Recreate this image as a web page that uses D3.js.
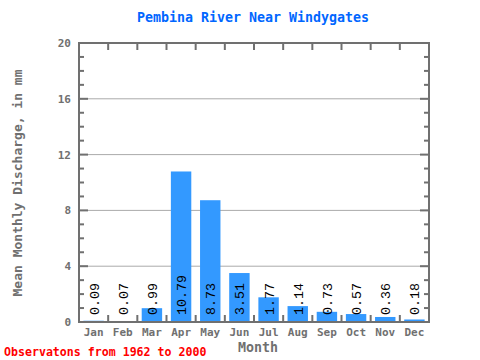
<!DOCTYPE html>
<html><head><meta charset="utf-8">
<script src="https://cdn.jsdelivr.net/npm/d3@7"></script>
<style>body{margin:0;background:#fff}</style>
</head><body>
<svg id="c" width="480" height="360"></svg>
<script>
const months = ["Jan","Feb","Mar","Apr","May","Jun","Jul","Aug","Sep","Oct","Nov","Dec"];
const values = [0.09,0.07,0.99,10.79,8.73,3.51,1.77,1.14,0.73,0.57,0.36,0.18];
const yTicks = [0,4,8,12,16,20];
const title = "Pembina River Near Windygates";
const yTitle = "Mean Monthly Discharge, in mm";
const xTitle = "Month";
const footer = "Observatons from 1962 to 2000";

const svg = d3.select("#c");
const L = 79, R = 429, T = 43, B = 322;
const axisCol = "#707070";
const mono = "'DejaVu Sans Mono', monospace";

const x = d3.scaleBand().domain(months).range([L, R]).paddingInner(0.3).paddingOuter(0.15);
const xb = d3.scaleLinear().domain([0, 12]).range([L, R]);
const y = d3.scaleLinear().domain([0, 20]).range([B, T]);

// gridlines
svg.append("g").selectAll("line").data(yTicks.filter(d => d > 0 && d < 20)).join("line")
  .attr("x1", L).attr("x2", R).attr("y1", d => y(d)).attr("y2", d => y(d))
  .attr("stroke", "#aaaaaa").attr("stroke-width", 1);

// bars
svg.append("g").selectAll("rect").data(values).join("rect")
  .attr("x", (d, i) => x(months[i])).attr("width", x.bandwidth())
  .attr("y", d => y(d)).attr("height", d => B - y(d))
  .attr("fill", "#3399ff");

// value labels
svg.append("g").selectAll("text").data(values).join("text")
  .attr("transform", (d, i) => `translate(${x(months[i]) + x.bandwidth() / 2 + 5},${B - 7}) rotate(-90)`)
  .attr("font-family", "'Liberation Mono', 'Courier New', monospace").attr("font-size", 13.3)
  .attr("fill", "#000").text(d => d.toFixed(2));

// minor ticks left & right
const minor = d3.range(1, 20).filter(v => v % 4 !== 0);
const tg = svg.append("g").attr("stroke", axisCol).attr("stroke-width", 2);
tg.selectAll(".ml").data(minor).join("line")
  .attr("x1", L).attr("x2", L + 5).attr("y1", d => y(d)).attr("y2", d => y(d));
tg.selectAll(".mr").data(minor).join("line")
  .attr("x1", R - 5).attr("x2", R).attr("y1", d => y(d)).attr("y2", d => y(d));
tg.selectAll(".Ml").data(yTicks.filter(d => d > 0 && d < 20)).join("line")
  .attr("x1", L).attr("x2", L + 9).attr("y1", d => y(d)).attr("y2", d => y(d));
tg.selectAll(".Mr").data(yTicks.filter(d => d > 0 && d < 20)).join("line")
  .attr("x1", R - 9).attr("x2", R).attr("y1", d => y(d)).attr("y2", d => y(d));
// band boundary ticks top & bottom
const bounds = d3.range(1, 12);
tg.selectAll(".bt").data(bounds).join("line")
  .attr("x1", d => xb(d)).attr("x2", d => xb(d)).attr("y1", T).attr("y2", T + 7);
tg.selectAll(".bb").data(bounds).join("line")
  .attr("x1", d => xb(d)).attr("x2", d => xb(d)).attr("y1", B).attr("y2", B - 7);

// frame
svg.append("rect").attr("x", L).attr("y", T).attr("width", R - L).attr("height", B - T)
  .attr("fill", "none").attr("stroke", axisCol).attr("stroke-width", 2);

// y tick labels
svg.append("g").selectAll("text").data(yTicks).join("text")
  .attr("x", 71).attr("y", d => y(d) + 4).attr("text-anchor", "end")
  .attr("font-family", mono).attr("font-weight", "bold").attr("font-size", 11)
  .attr("fill", axisCol).text(d => d);

// x labels
svg.append("g").selectAll("text").data(months).join("text")
  .attr("x", d => x(d) + x.bandwidth() / 2).attr("y", 336).attr("text-anchor", "middle")
  .attr("font-family", mono).attr("font-weight", "bold").attr("font-size", 11)
  .attr("fill", axisCol).text(d => d);

// titles
svg.append("text").attr("x", 253).attr("y", 22).attr("text-anchor", "middle")
  .attr("font-family", mono).attr("font-weight", "bold").attr("font-size", 13.3)
  .attr("fill", "#0066ff").text(title);
svg.append("text").attr("transform", `translate(22,183) rotate(-90)`).attr("text-anchor", "middle")
  .attr("font-family", mono).attr("font-weight", "bold").attr("font-size", 13)
  .attr("fill", axisCol).text(yTitle);
svg.append("text").attr("x", 258).attr("y", 352).attr("text-anchor", "middle")
  .attr("font-family", mono).attr("font-weight", "bold").attr("font-size", 13.3)
  .attr("fill", axisCol).text(xTitle);
svg.append("text").attr("x", 4).attr("y", 356)
  .attr("font-family", mono).attr("font-weight", "bold").attr("font-size", 11.6)
  .attr("fill", "#ff0000").text(footer);
</script>
</body></html>
